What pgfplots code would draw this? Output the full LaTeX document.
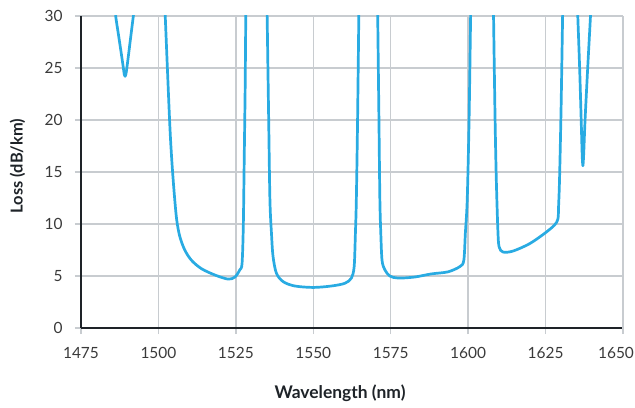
\documentclass[border=0pt]{standalone}
\usepackage{fontspec}
\setmainfont{Lato}
\usepackage{pgfplots}
\pgfplotsset{compat=1.18}
\definecolor{curve}{HTML}{29ABE2}
\definecolor{gridc}{HTML}{C8CCD0}
\definecolor{axisc}{HTML}{1E2328}
\definecolor{tickc}{HTML}{3A3A3A}
\tikzset{cv/.style={curve, line width=2.7bp, smooth, mark=none, line join=round}}
\begin{document}
\begin{tikzpicture}
\useasboundingbox (-81bp,-80bp) rectangle (554bp,328bp);
\begin{axis}[
  at={(0,0)}, anchor=south west,
  scale only axis, width=542bp, height=312bp,
  xmin=1475, xmax=1650, ymin=0, ymax=30,
  xtick={1475,1500,...,1625}, ytick={0,5,...,30},
  extra x ticks={1650},
  extra x tick style={grid=major, xticklabel style={xshift=-7bp}},
  axis x line*=bottom, axis y line*=left,
  axis line style={axisc, line width=2.4bp},
  grid=major, major grid style={gridc, line width=1.3bp},
  tick style={gridc, line width=1.3bp},
  major tick length=6bp, tick align=outside,
  /pgf/number format/assume math mode=true,
  /pgf/number format/1000 sep={},
  ticklabel style={font=\fontsize{15.5}{18}\selectfont, text=tickc},
  xticklabel style={yshift=-10bp},
  yticklabel style={xshift=-9bp},
  xlabel={Wavelength (nm)}, ylabel={Loss (dB/km)},
  xlabel style={font=\fontsize{17.5}{20}\selectfont\bfseries, text=axisc, at={(axis description cs:0.4779,-0.2244)}, anchor=base},
  ylabel style={font=\fontsize{16.5}{19}\selectfont\bfseries, text=axisc, at={(axis description cs:-0.1172,0.5192)}, anchor=center},
]
\addplot[cv] coordinates {(1486.0,31.2)(1486.2,30)(1487.2,28)(1488.2,26)(1488.75,24.85)(1489.0,24.35)(1489.25,24.2)(1489.5,24.4)(1489.8,25.0)(1490.4,26.4)(1491.1,28.1)(1491.9,30)(1492.1,30.6)};
\addplot[cv] coordinates {(1502.1,31)(1502.2,30)(1503.6,20)(1504.3,16.2)(1505.1,12.95)(1505.9,10.4)(1506.9,8.8)(1508.5,7.5)(1510.7,6.5)(1513.9,5.7)(1518.2,5.1)(1522.5,4.7)(1524.7,4.9)(1526.3,5.6)(1527.0,6.2)(1527.4,9.7)(1527.7,16.2)(1528.0,23)(1528.2,30)(1528.25,31)};
\addplot[cv] coordinates {(1535.0,31)(1535.1,30)(1535.6,20)(1536.0,12.3)(1536.5,9.1)(1537.0,6.9)(1538.1,5.26)(1540.3,4.45)(1544.0,4.04)(1550,3.9)(1555.9,4.04)(1560.2,4.3)(1562.3,4.8)(1563.2,5.9)(1563.6,9.1)(1563.9,12.3)(1564.3,20)(1564.7,30)(1564.75,31)};
\addplot[cv] coordinates {(1570.75,31)(1570.8,30)(1571.2,20)(1571.5,12.3)(1571.8,9.1)(1572.2,6.5)(1573.1,5.6)(1574.7,5.0)(1577.4,4.8)(1582.7,4.9)(1588.1,5.2)(1593.5,5.4)(1597.3,5.9)(1598.6,6.5)(1599.1,9.1)(1599.7,12.3)(1600.3,20)(1600.8,30)(1600.85,31)};
\addplot[cv] coordinates {(1608.15,31)(1608.2,30)(1608.7,20)(1609.1,14.2)(1609.6,9.4)(1610.0,7.8)(1611.3,7.3)(1614.5,7.4)(1619.8,8.1)(1624.7,9.1)(1627.9,9.9)(1629.0,10.5)(1629.2,11.7)(1629.5,14.2)(1630.0,21)(1630.5,30)(1630.55,31)};
\addplot[cv] coordinates {(1635.3,31)(1635.4,30)(1636.0,25)(1636.5,20)(1636.78,17)(1636.92,16.0)(1637.05,15.6)(1637.18,16.0)(1637.35,17)(1637.75,20)(1638.6,25)(1639.5,30)(1639.6,31)};
\end{axis}
\end{tikzpicture}
\end{document}
